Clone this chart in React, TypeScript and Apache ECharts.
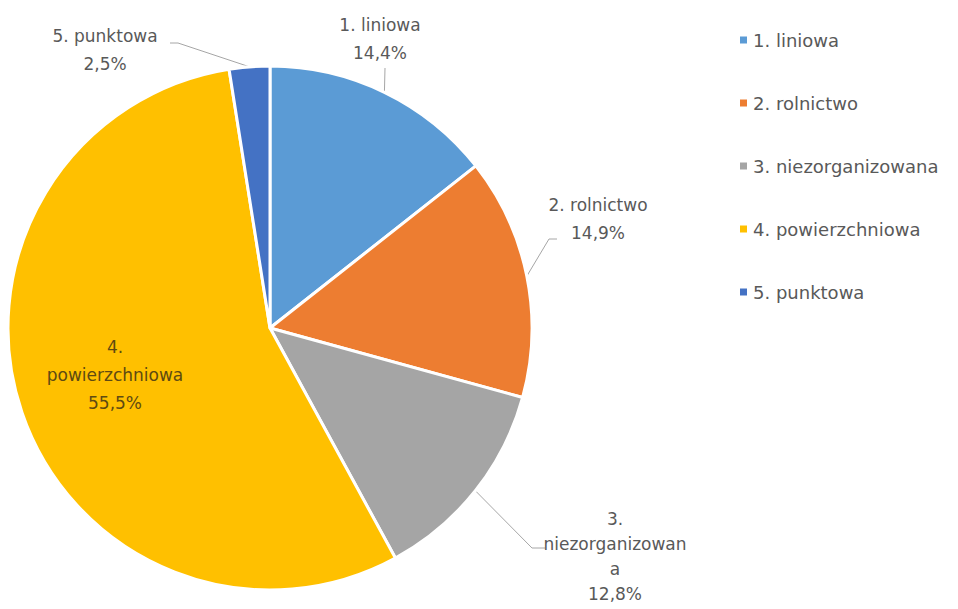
import React, { useEffect, useRef } from "react";
import * as echarts from "echarts";

const categories = ["1. liniowa", "2. rolnictwo", "3. niezorganizowana", "4. powierzchniowa", "5. punktowa"];
const labelNames = ["1. liniowa", "2. rolnictwo", "3.\nniezorganizowan\na", "4.\npowierzchniowa", "5. punktowa"];
const values = [14.4, 14.9, 12.8, 55.5, 2.5];
const colors = ["#5B9BD5", "#ED7D31", "#A5A5A5", "#FFC000", "#4472C4"];

// label placement (layout only)
const labelCenters: [number, number][] = [
  [380, 39],
  [598, 219],
  [615, 556],
  [115, 375],
  [105, 50],
];
const lineBends: [number, number][][] = [
  [[385, 68], [385, 68]],
  [[549, 239], [557, 239]],
  [[532, 548], [545, 548]],
  [],
  [[178, 43], [170, 43]],
];

export default function App() {
  const ref = useRef<HTMLDivElement>(null);
  useEffect(() => {
    if (!ref.current) return;
    const chart = echarts.init(ref.current, null, { renderer: "svg" });
    const font = "'DejaVu Sans', sans-serif";
    chart.setOption({
      animation: false,
      backgroundColor: "#ffffff",
      legend: {
        orient: "vertical",
        left: 733,
        top: 26,
        itemWidth: 9,
        itemHeight: 9,
        itemGap: 45,
        icon: "rect",
        data: categories,
        textStyle: { fontFamily: font, fontSize: 18, color: "#595959" },
      },
      series: [
        {
          type: "pie",
          center: [270, 328],
          radius: 262,
          startAngle: 90,
          clockwise: true,
          avoidLabelOverlap: false,
          itemStyle: { borderColor: "#ffffff", borderWidth: 3 },
          emphasis: { disabled: true },
          label: {
            show: true,
            position: "outside",
            fontFamily: font,
            fontSize: 17,
            lineHeight: 28,
            color: "#595959",
            align: "center",
            formatter: (p: any) => labelNames[p.dataIndex] + "\n" + p.value.toFixed(1).replace(".", ",") + "%",
          },
          labelLine: { show: true, length: 20, length2: 10, lineStyle: { color: "#A6A6A6", width: 1 } },
          labelLayout: (p: any) => {
            const i = p.dataIndex;
            const c = labelCenters[i];
            const res: any = { x: c[0], y: c[1], align: "center", verticalAlign: "middle" };
            if (p.labelLinePoints && lineBends[i].length) {
              const p0 = p.labelLinePoints[0];
              res.labelLinePoints = [p0, lineBends[i][0], lineBends[i][1]];
            }
            return res;
          },
          data: categories.map((n, i) => ({
            name: n,
            value: values[i],
            itemStyle: { color: colors[i] },
            ...(i === 3
              ? { label: { position: "inside", color: "#5E4A12" }, labelLine: { show: false } }
              : i === 2
              ? { label: { lineHeight: 25 } }
              : {}),
          })),
        },
      ],
    });
    return () => chart.dispose();
  }, []);
  return <div ref={ref} style={{ position: "fixed", left: 0, top: 0, width: 958, height: 609 }} />;
}
